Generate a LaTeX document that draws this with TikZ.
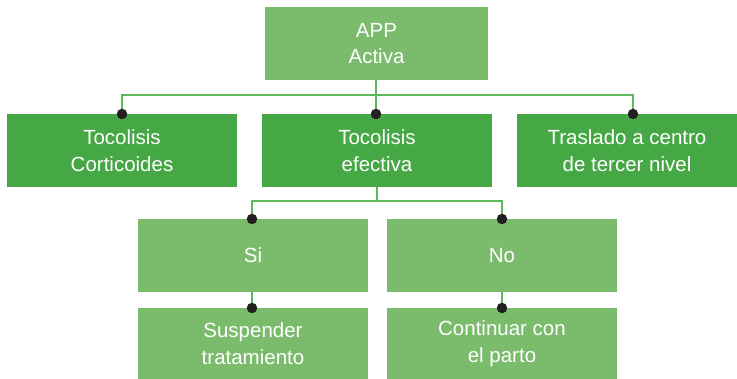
\documentclass[tikz,border=0pt]{standalone}
\usepackage{fontspec}
\setmainfont{Liberation Sans}
\definecolor{dkgreen}{HTML}{45A845}
\definecolor{ltgreen}{HTML}{7ABB6C}
\definecolor{lngreen}{HTML}{5DB95A}
\definecolor{dotc}{HTML}{231F20}
\tikzset{
  box/.style={rectangle, inner sep=0pt, text=white, align=center,
    font=\fontsize{20.5}{26.5}\selectfont},
  dkbox/.style={box, fill=dkgreen},
  ltbox/.style={box, fill=ltgreen},
  conn/.style={draw=lngreen, line width=1.3pt},
  dot/.style={circle, fill=dotc, inner sep=0pt, minimum size=10.5pt},
}
\begin{document}
\begin{tikzpicture}[x=1pt,y=-1pt]
\useasboundingbox (0,0) rectangle (737,379);
\node[ltbox, minimum width=223pt, minimum height=73pt] (app) at (376.5,43.5) {APP\\Activa};
\node[dkbox, minimum width=230pt, minimum height=73pt] (toco) at (122,150.5) {Tocolisis\\Corticoides};
\node[dkbox, minimum width=230pt, minimum height=73pt] (efec) at (377,150.5) {Tocolisis\\efectiva};
\node[dkbox, minimum width=220pt, minimum height=73pt] (tras) at (627,150.5) {Traslado a centro\\de tercer nivel};
\node[ltbox, minimum width=230pt, minimum height=73pt] (si) at (253,255.5) {Si};
\node[ltbox, minimum width=230pt, minimum height=73pt] (no) at (502,255.5) {No};
\node[ltbox, minimum width=230pt, minimum height=71pt] (susp) at (253,343.5) {Suspender\\tratamiento};
\node[ltbox, minimum width=230pt, minimum height=71pt] (cont) at (502,343.5) {Continuar con\\el parto};
% dot positions
\coordinate (d1) at (122,114);
\coordinate (d2) at (376,114);
\coordinate (d3) at (633,114);
\coordinate (d4) at (252,219);
\coordinate (d5) at (502,219);
\coordinate (d6) at (252,308);
\coordinate (d7) at (502,308);
\coordinate (h1) at (376,95);
\coordinate (h2) at (377,201);
% connectors
\draw[conn] (app.south -| d2) -- (d2);
\draw[conn] (d1) |- (h1) -| (d3);
\draw[conn] (efec.south) -- (h2);
\draw[conn] (d4) |- (h2) -| (d5);
\draw[conn] (si.south -| d6) -- (d6);
\draw[conn] (no.south -| d7) -- (d7);
% dots
\foreach \d in {d1,d2,d3,d4,d5,d6,d7}
  \node[dot] (\d n) at (\d) {};
\end{tikzpicture}
\end{document}
